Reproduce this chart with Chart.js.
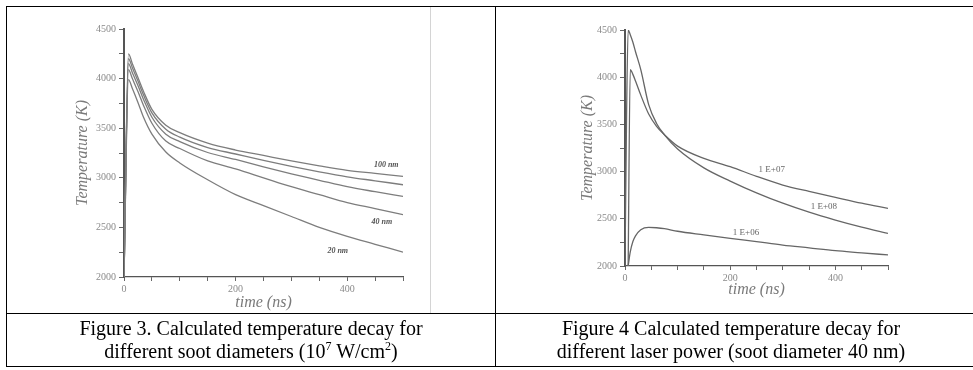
<!DOCTYPE html>
<html>
<head>
<meta charset="utf-8">
<script src="https://cdn.jsdelivr.net/npm/chart.js@4.4.0/dist/chart.umd.min.js"></script>
<style>
  body { margin: 0; background: #fff; width: 973px; height: 370px; overflow: hidden; position: relative; font-family: 'Liberation Serif', serif; }
  .rule { position: absolute; background: #000; }
  canvas { position: absolute; }
  .caption { position: absolute; top: 314px; height: 52px; display: flex; flex-direction: column; justify-content: center; text-align: center; font-size: 20px; line-height: 23px; color: #000; }
  .caption sup { font-size: 12px; line-height: 0; }
</style>
</head>
<body>
<!-- table rules -->
<div class="rule" style="left:6px;top:6px;width:967px;height:1px"></div>
<div class="rule" style="left:6px;top:313px;width:967px;height:1px"></div>
<div class="rule" style="left:6px;top:366px;width:967px;height:1px"></div>
<div class="rule" style="left:6px;top:6px;width:1px;height:361px"></div>
<div class="rule" style="left:495px;top:6px;width:1px;height:361px"></div>
<!-- edge of the scanned figure -->
<div class="rule" style="left:430px;top:7px;width:1px;height:306px;background:#d4d4d4"></div>

<canvas id="fig3" width="349" height="298" style="left:64px;top:19px"></canvas>
<canvas id="fig4" width="333" height="286" style="left:565px;top:20px"></canvas>

<div class="caption" style="left:7px;width:488px">
  <div>Figure 3. Calculated temperature decay for</div>
  <div>different soot diameters (10<sup>7</sup> W/cm<sup>2</sup>)</div>
</div>
<div class="caption" style="left:496px;width:470px">
  <div>Figure 4 Calculated temperature decay for</div>
  <div>different laser power (soot diameter 40 nm)</div>
</div>

<script>
// Figure 3: soot diameters, time in ns, temperature in K
const timeFig3 = [0, 8, 15, 25, 35, 50, 75, 100, 150, 200, 250, 300, 350, 400, 450, 500];
const temp100nm = [2000, 4250, 4150, 4010, 3870, 3690, 3530, 3455, 3350, 3280, 3225, 3170, 3120, 3075, 3045, 3015];
const temp80nm  = [2000, 4200, 4110, 3975, 3835, 3655, 3490, 3410, 3305, 3240, 3175, 3115, 3060, 3010, 2970, 2930];
const temp60nm  = [2000, 4150, 4060, 3930, 3790, 3610, 3440, 3365, 3255, 3185, 3110, 3040, 2975, 2910, 2860, 2813];
const temp40nm  = [2000, 4090, 4000, 3870, 3730, 3550, 3370, 3295, 3170, 3090, 3000, 2910, 2830, 2750, 2690, 2628];
const temp20nm  = [2000, 3990, 3900, 3760, 3610, 3440, 3260, 3150, 2980, 2830, 2720, 2610, 2500, 2410, 2330, 2250];

// Figure 4: laser power
const timeFig4 = [0, 3, 6, 10, 15, 20, 30, 45, 60, 75, 100, 150, 200, 250, 300, 350, 400, 450, 500];
const tempE08 = [2000, 3600, 4500, 4450, 4370, 4270, 4080, 3710, 3510, 3390, 3240, 3040, 2900, 2775, 2665, 2570, 2487, 2412, 2346];
const tempE07 = [null, null, 2000, 4080, 4030, 3960, 3810, 3610, 3480, 3390, 3270, 3140, 3052, 2950, 2858, 2790, 2727, 2665, 2611];
const tempE06 = [null, null, 2000, 2150, 2260, 2320, 2385, 2410, 2405, 2395, 2368, 2330, 2293, 2258, 2222, 2192, 2162, 2140, 2117];

// axis ticks
const yTickLabels = [2000, 2500, 3000, 3500, 4000, 4500];
const xTickLabels = [0, 200, 400];

// curve labels: text and anchor in data units (ns, K)
const fig3Labels = [
  { text: '100 nm', t: 470, T: 3125 },
  { text: '40 nm', t: 462, T: 2555 },
  { text: '20 nm', t: 383, T: 2262 }
];
const fig4Labels = [
  { text: '1 E+07', t: 279, T: 3017 },
  { text: '1 E+08', t: 378, T: 2625 },
  { text: '1 E+06', t: 230, T: 2355 }
];

function points(times, values) {
  return times.map((t, i) => ({ x: t, y: values[i] })).filter(p => p.y !== null);
}

const curveLabels = {
  id: 'curveLabels',
  afterDatasetsDraw(chart, args, opts) {
    const { ctx, scales: { x, y } } = chart;
    ctx.save();
    ctx.font = opts.font;
    ctx.fillStyle = opts.color;
    ctx.textAlign = 'center';
    ctx.textBaseline = 'middle';
    opts.items.forEach(it => ctx.fillText(it.text, x.getPixelForValue(it.t), y.getPixelForValue(it.T)));
    ctx.restore();
  }
};

function line(data, color) {
  return {
    data: data,
    borderColor: color,
    borderWidth: 1.3,
    pointRadius: 0,
    fill: false,
    cubicInterpolationMode: 'monotone'
  };
}

function buildOptions({ yTitlePad, xTitlePad, labels, labelFont, labelColor }) {
  const tickFont = { family: 'Liberation Serif', size: 10 };
  const titleFont = { family: 'Liberation Serif', size: 16, style: 'italic' };
  return {
    responsive: false,
    animation: false,
    layout: { padding: { top: 10, right: 10, left: 0, bottom: 0 } },
    scales: {
      x: {
        type: 'linear',
        min: 0,
        max: 500,
        afterFit: s => { s.height = 40; },
        ticks: {
          stepSize: 50,
          autoSkip: false,
          maxRotation: 0,
          padding: 2,
          font: tickFont,
          color: '#8a8a8a',
          callback: v => xTickLabels.includes(v) ? v : ''
        },
        grid: { drawOnChartArea: false, tickLength: 4, color: '#666' },
        border: { color: '#555', width: 1.2 },
        title: { display: true, text: 'time (ns)', font: titleFont, color: '#7a7a7a', padding: { top: 0, bottom: xTitlePad } }
      },
      y: {
        min: 2000,
        max: 4500,
        afterFit: s => { s.width = 60; },
        ticks: {
          stepSize: 250,
          autoSkip: false,
          padding: 3,
          font: tickFont,
          color: '#8a8a8a',
          callback: v => yTickLabels.includes(v) ? v : ''
        },
        grid: { drawOnChartArea: false, tickLength: 5, color: '#666' },
        border: { color: '#555', width: 2 },
        title: { display: true, text: 'Temperature (K)', font: titleFont, color: '#7a7a7a', padding: { top: yTitlePad, bottom: 0 } }
      }
    },
    plugins: {
      legend: { display: false },
      tooltip: { enabled: false },
      curveLabels: { items: labels, font: labelFont, color: labelColor }
    }
  };
}

new Chart(document.getElementById('fig3'), {
  type: 'line',
  data: {
    datasets: [
      line(points(timeFig3, temp100nm), '#7d7d7d'),
      line(points(timeFig3, temp80nm), '#7d7d7d'),
      line(points(timeFig3, temp60nm), '#7d7d7d'),
      line(points(timeFig3, temp40nm), '#7d7d7d'),
      line(points(timeFig3, temp20nm), '#7d7d7d')
    ]
  },
  options: buildOptions({
    yTitlePad: 9,
    xTitlePad: 5,
    labels: fig3Labels,
    labelFont: 'italic bold 8px "Liberation Serif"',
    labelColor: '#555'
  }),
  plugins: [curveLabels]
});

new Chart(document.getElementById('fig4'), {
  type: 'line',
  data: {
    datasets: [
      line(points(timeFig4, tempE08), '#666'),
      line(points(timeFig4, tempE07), '#666'),
      line(points(timeFig4, tempE06), '#666')
    ]
  },
  options: buildOptions({
    yTitlePad: 13,
    xTitlePad: 7,
    labels: fig4Labels,
    labelFont: '9px "Liberation Serif"',
    labelColor: '#666'
  }),
  plugins: [curveLabels]
});
</script>
</body>
</html>
